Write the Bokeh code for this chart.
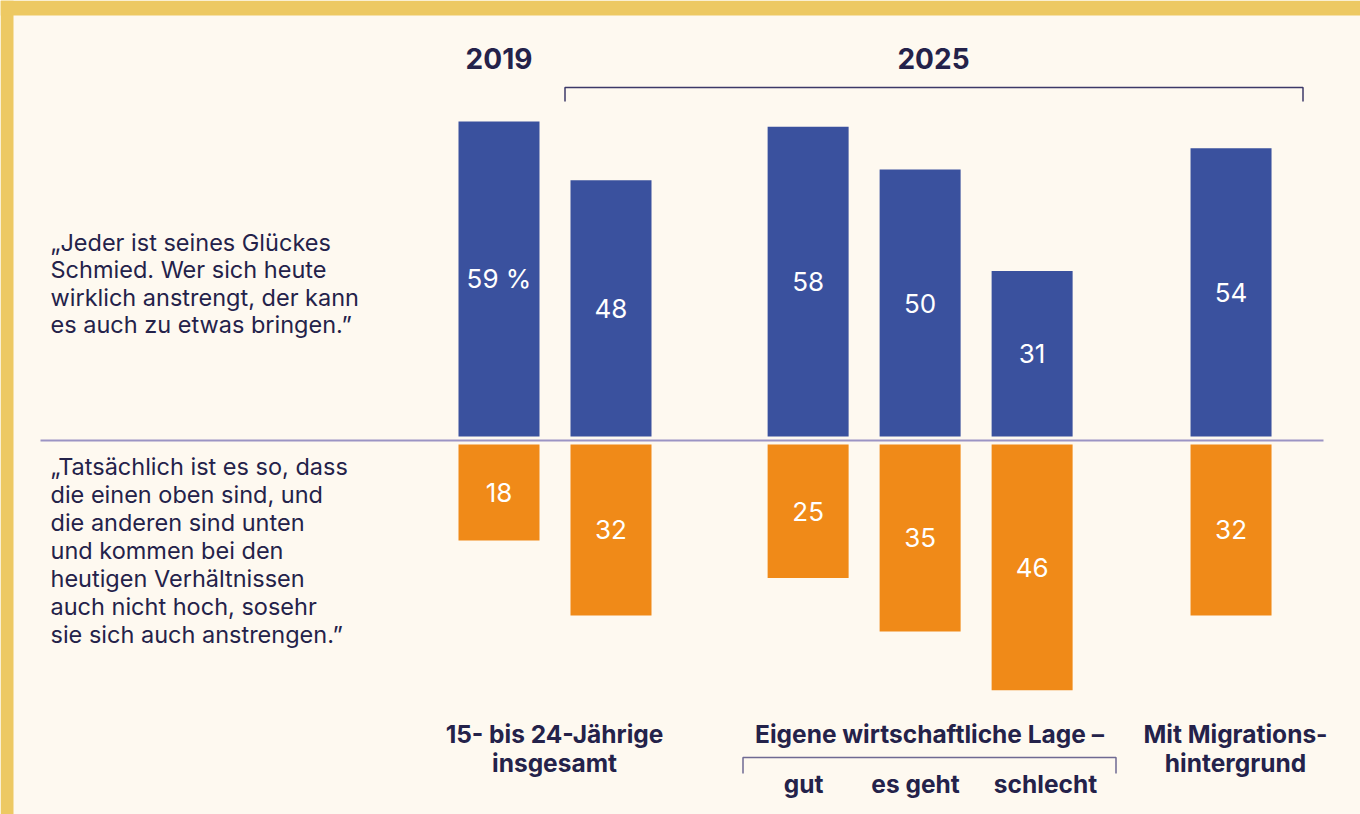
from bokeh.plotting import figure
from bokeh.models import Range1d
from bokeh.core.properties import value
from bokeh.embed import file_html
from bokeh.resources import INLINE

# ---------------- data ----------------
bar_keys = ["2019 insgesamt", "2025 insgesamt", "gut", "es geht", "schlecht", "Mit Migrationshintergrund"]
agree = [59, 48, 58, 50, 31, 54]          # „Jeder ist seines Glückes Schmied …"
disagree = [18, 32, 25, 35, 46, 32]       # „Tatsächlich ist es so, dass …"
agree_labels = ["59 %", "48", "58", "50", "31", "54"]
disagree_labels = ["18", "32", "25", "35", "46", "32"]
year_labels = ["2019", "2025"]
group_labels = [["15- bis 24-Jährige", "insgesamt"],
                ["Eigene wirtschaftliche Lage –"],
                ["Mit Migrations-", "hintergrund"]]
sub_labels = ["gut", "es geht", "schlecht"]
statement_top = ["„Jeder ist seines Glückes", "Schmied. Wer sich heute",
                 "wirklich anstrengt, der kann", "es auch zu etwas bringen.\u201d"]
statement_bottom = ["„Tatsächlich ist es so, dass", "die einen oben sind, und",
                    "die anderen sind unten", "und kommen bei den",
                    "heutigen Verhältnissen", "auch nicht hoch, sosehr",
                    "sie sich auch anstrengen.\u201d"]

# ---------------- layout / style ----------------
W, H = 1360, 814
OFF = 0                      # page offset of the figure
BG = "#FEF9F0"
YELLOW = "#EDC963"
BLUE = "#3A519E"
ORANGE = "#F08A18"
INK = "#24224A"
LINE = "#9B94C4"
FONT = "Inter"

PX_X, X0 = 112.0, 498.5      # px per slot, px of slot 0
PX_Y, Y0 = 5.34, 440.0       # px per percent, px of value 0
def dx(rx):  # reference-image x -> data x
    return (rx - OFF - X0) / PX_X
def dy(ry):  # reference-image y -> data y
    return (Y0 - (ry - OFF)) / PX_Y

slots = [0.0, 1.0, 2.76, 3.76, 4.76, 6.536]
BAR_W = 81 / PX_X
GAP = 4 / PX_Y

p = figure(width=W, height=H, output_backend="svg", toolbar_location=None,
           x_range=Range1d(dx(OFF), dx(OFF + W)), y_range=Range1d(dy(OFF + H), dy(OFF)),
           x_axis_type=None, y_axis_type=None, min_border=0,
           background_fill_color=BG, border_fill_color=BG, outline_line_color=None)
p.grid.visible = False

# yellow frame
p.quad(left=[dx(0), dx(0)], right=[dx(13), dx(1360)], bottom=[dy(814), dy(15)], top=[dy(0), dy(0)],
       fill_color=YELLOW, line_color=None)

# bars
p.vbar(x=slots, width=BAR_W, bottom=GAP, top=[GAP + v for v in agree], fill_color=BLUE, line_color=None)
p.vbar(x=slots, width=BAR_W, top=-GAP, bottom=[-GAP - v for v in disagree], fill_color=ORANGE, line_color=None)

# baseline
p.line(x=[dx(40), dx(1323)], y=[0, 0], line_color=LINE, line_width=2)

# bar values
p.text(x=slots, y=[GAP + v / 2 for v in agree], text=agree_labels, text_font=value(FONT),
       text_font_size="26px", text_color="white", text_align="center", text_baseline="middle")
p.text(x=slots, y=[-GAP - v / 2 for v in disagree], text=disagree_labels, text_font=value(FONT),
       text_font_size="26px", text_color="white", text_align="center", text_baseline="middle")

# years
p.text(x=[slots[0], dx(933)], y=[dy(58)] * 2, text=year_labels, text_font=value(FONT),
       text_font_size="28px", text_font_style="bold", text_color=INK,
       text_align="center", text_baseline="middle")

# brackets
p.line(x=[dx(564.5), dx(564.5), dx(1302.5), dx(1302.5)], y=[dy(101), dy(87), dy(87), dy(101)],
       line_color="#3C3968", line_width=1.5)
p.line(x=[dx(742.5), dx(742.5), dx(1115.5), dx(1115.5)], y=[dy(773), dy(757), dy(757), dy(773)],
       line_color="#6F6A92", line_width=1.5)

# statements
p.text(x=[dx(50)] * len(statement_top), y=[dy(242 + 27.3 * i) for i in range(len(statement_top))],
       text=statement_top, text_font=value(FONT), text_font_size="23.5px", text_color=INK,
       text_align="left", text_baseline="middle")
p.text(x=[dx(50)] * len(statement_bottom), y=[dy(466 + 28 * i) for i in range(len(statement_bottom))],
       text=statement_bottom, text_font=value(FONT), text_font_size="23.5px", text_color=INK,
       text_align="left", text_baseline="middle")

# group labels
gx = [dx(554), dx(929), dx(1235)]
for cx, lines in zip(gx, group_labels):
    p.text(x=[cx] * len(lines), y=[dy(733 + 29 * i) for i in range(len(lines))], text=lines,
           text_font=value(FONT), text_font_size="24.5px", text_font_style="bold", text_color=INK,
           text_align="center", text_baseline="middle")
p.text(x=[dx(803), dx(915), dx(1045)], y=[dy(783)] * 3, text=sub_labels,
       text_font=value(FONT), text_font_size="24.5px", text_font_style="bold", text_color=INK,
       text_align="center", text_baseline="middle")

open("out.html", "w").write(file_html(p, INLINE))
